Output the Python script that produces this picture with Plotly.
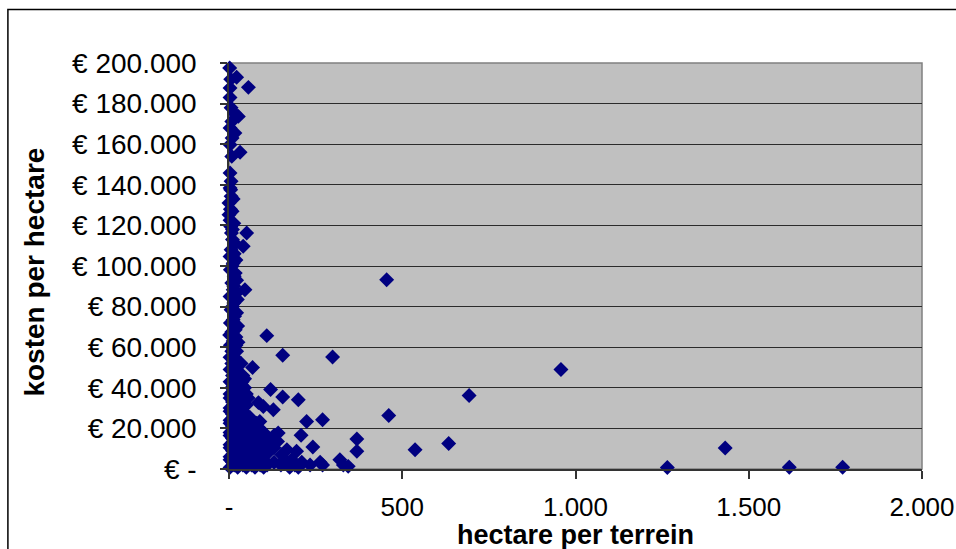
import plotly.graph_objects as go

# Terrains along the narrow band near 0 ha (hectare, kosten per hectare)
band_ha = [2, 5, 22, 56, 3, 3, 6, 17, 27, 8, 3, 17, 9, 3, 32, 8, 3, 6, 3, 5,
           6, 0, 4, 0, 3, 5, 7, 51, 10, 41, 6, 3, 12, 4, 15, 8, 46, 12, 3, 14,
           6, 16, 4, 18, 2, 12, 4, 20, 8, 22, 3, 16, 8, 25, 35, 3, 18,
           12, 9, 14, 10, 18, 15, 20, 9, 18, 22, 14, 20, 24, 10, 22, 12, 25, 8, 20, 26]
band_kosten = [197500, 192000, 193000, 188000, 187700, 183000, 178000, 175000, 173700, 171200,
               168000, 165500, 163000, 159700, 156000, 154000, 145800, 141700, 138400, 137600,
               134300, 131000, 128000, 125300, 122500, 119500, 116300, 116300, 113000, 109700,
               108000, 104700, 101400, 98200, 94900, 91600, 88300, 88300, 85000, 81800,
               78500, 75200, 71900, 68600, 66000, 63000, 61000, 61000, 58000, 58000,
               55000, 55000, 52000, 52000, 52000, 49000, 49000,
               133000, 127000, 121000, 118000, 111000, 106000, 103000, 100000, 96500, 93000,
               90000, 86500, 83500, 80000, 77000, 73500, 70500, 67500, 65000, 62500]

# Small and medium terrains below € 50.000
cluster_ha = [10, 30, 40, 3, 20, 38, 8, 28, 45, 3, 18, 38, 50,
              10, 30, 3, 20, 40, 10, 30, 45,
              3, 20, 40, 55, 10, 30, 50, 70,
              3, 20, 45, 75, 100, 10, 30, 55, 85, 115,
              3, 20, 45, 70, 100, 125, 10, 30, 55, 85, 110,
              3, 20, 45, 70, 99, 10, 35, 60, 85, 130, 210, 263,
              110, 150, 234, 330, 344, 3, 25, 50, 75, 100, 175, 200,
              20, 15, 45, 12, 35, 15, 35, 3, 22, 45, 55, 12, 32, 50,
              3, 22, 40, 12, 35, 60, 3, 25, 45, 65, 80, 12, 35, 60, 90,
              3, 22, 45, 70, 100, 130, 12, 35, 60, 90, 140,
              3, 22, 45, 70, 100, 130, 12, 35, 60, 90, 110,
              3, 22, 45, 70, 100, 160, 15, 40, 65, 90, 190, 270]
cluster_kosten = [46000, 46000, 46000, 43000, 43000, 43000, 40000, 40000, 40000, 37000, 37000, 37000, 37000,
                  33000, 33000, 30000, 30000, 30000, 27000, 27000, 27000,
                  24000, 24000, 24000, 24000, 21000, 21000, 21000, 21000,
                  18000, 18000, 18000, 18000, 18000, 15000, 15000, 15000, 15000, 15000,
                  12000, 12000, 12000, 12000, 12000, 12000, 9000, 9000, 9000, 9000, 9000,
                  6000, 6000, 6000, 6000, 6000, 3300, 3300, 3300, 3300, 3300, 3300, 3300,
                  2000, 2000, 2000, 2000, 1300, 800, 800, 800, 800, 800, 800, 800,
                  47500, 44500, 44500, 41500, 41500, 38500, 38500, 35000, 35000, 35000, 35000,
                  31500, 31500, 31500,
                  28500, 28500, 28500, 25500, 25500, 25500, 22500, 22500, 22500, 22500, 22500,
                  19500, 19500, 19500, 19500,
                  16500, 16500, 16500, 16500, 16500, 16500, 13500, 13500, 13500, 13500, 13500,
                  10500, 10500, 10500, 10500, 10500, 10500, 7500, 7500, 7500, 7500, 7500,
                  4500, 4500, 4500, 4500, 4500, 4500, 2000, 2000, 2000, 2000, 2000, 2000]

# Scattered terrains away from the main cluster
spread_ha = [109, 155, 299, 68, 120, 155, 693, 200, 85, 99, 128, 461, 89, 224, 270,
             142, 208, 369, 634, 242, 1432, 167, 537, 195, 369, 152, 181, 320,
             455, 958, 1265, 1617, 1771]
spread_kosten = [65700, 56000, 55200, 50000, 39200, 35500, 36200, 34100, 32700, 30800, 29200, 26400, 23400, 23400, 24300,
                 17700, 16600, 14800, 12600, 10800, 10300, 9500, 9500, 8700, 8700, 7000, 4600, 4600,
                 93200, 49000, 700, 900, 900]

hectare = band_ha + cluster_ha + spread_ha
kosten = band_kosten + cluster_kosten + spread_kosten

y_ticks = [0, 20000, 40000, 60000, 80000, 100000, 120000, 140000, 160000, 180000, 200000]
y_labels = ["€ -", "€ 20.000", "€ 40.000", "€ 60.000", "€ 80.000", "€ 100.000",
            "€ 120.000", "€ 140.000", "€ 160.000", "€ 180.000", "€ 200.000"]
x_ticks = [0, 500, 1000, 1500, 2000]
x_labels = ["-", "500", "1.000", "1.500", "2.000"]

FONT = "Liberation Sans, Arial, sans-serif"

fig = go.Figure(go.Scatter(
    x=hectare, y=kosten, mode="markers",
    marker=dict(symbol="diamond", size=11.5, color="#000080", line=dict(width=0)),
    cliponaxis=False, hoverinfo="x+y",
))

W, H = 956, 549
L, R, T, B = 229, 34.3, 63.3, 79.7
pw, ph = W - L - R, H - T - B

def px_x(p):
    return (p - L) / pw

def px_y(p):
    return (H - B - p) / ph

fig.update_layout(
    width=W, height=H,
    margin=dict(l=L, r=R, t=T, b=B, pad=0, autoexpand=False),
    paper_bgcolor="white", plot_bgcolor="#C0C0C0",
    showlegend=False,
    font=dict(family=FONT, size=27, color="black"),
    xaxis=dict(
        range=[0, 2000], tickvals=x_ticks, ticktext=x_labels,
        showgrid=False, zeroline=False, automargin=False,
        showline=True, linecolor="#333333", linewidth=1.5,
        ticks="outside", ticklen=8, tickcolor="#333333", tickwidth=1.5,
        ticklabelstandoff=6,
        tickfont=dict(family=FONT, size=26, color="black"),
    ),
    yaxis=dict(
        range=[0, 200000], tickvals=y_ticks, ticktext=y_labels,
        showgrid=True, gridcolor="#2b2b2b", gridwidth=1.3, zeroline=False,
        automargin=False,
        showline=True, linecolor="#333333", linewidth=1.5,
        ticks="outside", ticklen=7, tickcolor="#333333", tickwidth=1.5,
        ticklabelstandoff=18,
        tickfont=dict(family=FONT, size=28, color="black"),
    ),
    shapes=[
        # plot area frame (top / right edges)
        dict(type="rect", xref="paper", yref="paper", x0=0, y0=0, x1=1, y1=1,
             line=dict(color="#808080", width=1.5), layer="below"),
        # chart area border
        dict(type="rect", xref="paper", yref="paper",
             x0=px_x(8), y0=px_y(560), x1=px_x(970), y1=px_y(9.7),
             line=dict(color="black", width=1.5)),
    ],
    annotations=[
        dict(text="<b>hectare per terrein</b>", xref="paper", yref="paper",
             x=px_x(575), y=px_y(535), xanchor="center", yanchor="middle",
             showarrow=False, font=dict(family=FONT, size=27, color="black")),
        dict(text="<b>kosten per hectare</b>", xref="paper", yref="paper",
             x=px_x(35), y=px_y(272), xanchor="center", yanchor="middle",
             textangle=-90, showarrow=False,
             font=dict(family=FONT, size=28, color="black")),
    ],
)

fig.write_html("out.html")
